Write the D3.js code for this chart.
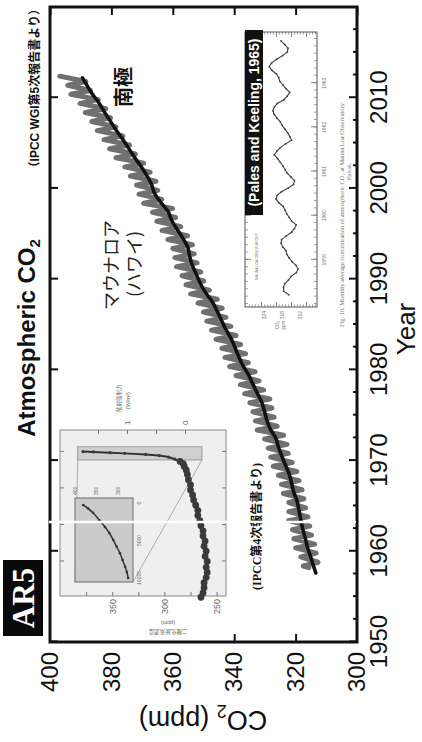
<!DOCTYPE html>
<html>
<head>
<meta charset="utf-8">
<script src="https://cdn.jsdelivr.net/npm/d3@7"></script>
<style>
  html, body { margin: 0; padding: 0; background: #fff; }
  svg { display: block; }
</style>
</head>
<body>
<svg id="chart" width="422" height="742"></svg>
<script>
// ---------------- main chart data ----------------
const decadeTicks = [1950, 1960, 1970, 1980, 1990, 2000, 2010];
const yearMinorTicks = [1952.5, 1955, 1957.5, 1962.5, 1965, 1967.5, 1972.5, 1975, 1977.5,
  1982.5, 1985, 1987.5, 1992.5, 1995, 1997.5, 2002.5, 2005, 2007.5, 2012.5, 2015, 2017.5];
const co2Ticks = [300, 320, 340, 360, 380, 400];
const co2EdgeTicks = [320, 340];

// Mauna Loa: seasonal maximum (May) and minimum (Oct) per year, ppm
const mloYears = [1958, 1959, 1960, 1961, 1962, 1963, 1964, 1965, 1966, 1967, 1968, 1969,
  1970, 1971, 1972, 1973, 1974, 1975, 1976, 1977, 1978, 1979, 1980, 1981, 1982, 1983,
  1984, 1985, 1986, 1987, 1988, 1989, 1990, 1991, 1992, 1993, 1994, 1995, 1996, 1997,
  1998, 1999, 2000, 2001, 2002, 2003, 2004, 2005, 2006, 2007, 2008, 2009, 2010, 2011, 2012];
const mloMay = [317.5, 318.3, 320.0, 320.6, 321.0, 322.3, 322.2, 322.2, 324.0, 324.6, 325.6,
  327.3, 328.1, 328.9, 330.1, 332.5, 333.1, 333.9, 334.9, 336.6, 338.0, 339.4, 341.5, 343.0,
  344.0, 345.9, 347.4, 348.9, 350.0, 351.8, 354.2, 355.7, 357.0, 358.8, 359.3, 360.0, 361.6,
  363.5, 365.2, 366.6, 369.5, 371.0, 371.8, 373.8, 375.6, 378.5, 380.6, 382.4, 384.6, 386.4,
  388.5, 390.2, 393.2, 394.2, 396.8];
const mloOct = [312.7, 313.3, 313.8, 314.8, 315.4, 316.0, 316.7, 317.3, 317.9, 318.9, 319.6,
  321.1, 322.4, 322.8, 323.9, 326.0, 327.0, 327.7, 328.4, 330.4, 331.9, 333.2, 335.4, 336.3,
  337.9, 339.4, 341.1, 342.7, 343.9, 345.5, 348.1, 349.9, 350.9, 352.1, 353.0, 353.6, 355.2,
  357.4, 359.1, 360.1, 363.6, 364.9, 365.5, 367.4, 369.5, 372.2, 374.1, 376.3, 378.5, 380.3,
  381.8, 384.3, 386.8, 388.3];
const mloFirst = { t: 1958.2, v: 315.7 };
const mayFrac = 0.375, octFrac = 0.79;

// South Pole annual values, ppm
const spoYears = [1957.6, 1958.5, 1959.5, 1960.5, 1961.5, 1962.5, 1963.5, 1964.5, 1965.5,
  1966.5, 1967.5, 1968.5, 1969.5, 1970.5, 1971.5, 1972.5, 1973.5, 1974.5, 1975.5, 1976.5,
  1977.5, 1978.5, 1979.5, 1980.5, 1981.5, 1982.5, 1983.5, 1984.5, 1985.5, 1986.5, 1987.5,
  1988.5, 1989.5, 1990.5, 1991.5, 1992.5, 1993.5, 1994.5, 1995.5, 1996.5, 1997.5, 1998.5,
  1999.5, 2000.5, 2001.5, 2002.5, 2003.5, 2004.5, 2005.5, 2006.5, 2007.5, 2008.5, 2009.5,
  2010.5, 2011.5, 2012.2];
const spoValues = [313.4, 314.3, 315.2, 316.2, 316.9, 317.7, 318.3, 318.9, 319.5, 320.6,
  321.3, 322.1, 323.3, 324.5, 325.6, 326.5, 328.3, 329.4, 330.2, 331.1, 332.6, 334.0, 335.4,
  337.2, 338.6, 339.8, 341.1, 342.8, 344.2, 345.6, 347.1, 349.3, 351.0, 352.3, 353.6, 354.5,
  355.1, 356.7, 358.6, 360.4, 361.6, 364.0, 366.0, 367.0, 368.6, 370.5, 372.6, 374.5, 376.5,
  378.6, 380.5, 382.4, 384.2, 386.4, 388.2, 389.4];

// ---------------- AR4 inset data (year, ppm) ----------------
const ar4Years = [10, 70, 140, 210, 280, 350, 420, 500, 570, 640, 710, 780, 850, 920, 990,
  1060, 1130, 1200, 1270, 1340, 1410, 1480, 1550, 1620, 1690, 1750, 1800, 1840, 1870, 1900,
  1930, 1950, 1965, 1980, 1990, 2000, 2005];
const ar4Co2 = [265, 263, 262, 262, 260, 259, 260, 259, 261, 260, 262, 261, 263, 263, 265,
  266, 268, 268, 270, 272, 273, 275, 275, 277, 278, 279, 281, 282, 285, 290, 296, 305, 318,
  338, 352, 368, 378];
const ar4Co2Ticks = [250, 275, 300, 325, 350, 375];
const ar4Co2Labels = [250, 300, 350];
const ar4YearTicks = [500, 1000, 1500, 2000];
const ar4ForcingTicks = [0, 0.5, 1, 1.5];
const ar4ForcingLabels = [0, 1];
// 10,000-year panel (years before present, ppm)
const subYears = [-10000, -9200, -8500, -7600, -6700, -5800, -4900, -4000, -3200, -2300, -1300, -700, -270];
const subCo2 = [276, 279, 283, 289, 295, 303, 311, 320, 330, 343, 358, 370, 381];
const subYearLabels = [-10000, -5000, 0];
const subCo2Labels = [300, 350, 400];

// ---------------- Pales & Keeling (1965) monthly Mauna Loa, Mar 1958 - Dec 1963 ----------------
const pkStart = { year: 1958, month: 3 };
const pkValues = [
  315.71, 317.45, 317.50, 317.10, 315.86, 314.93, 313.20, 312.66, 313.33, 314.67,
  315.62, 316.38, 316.71, 317.72, 318.29, 318.15, 316.54, 314.80, 313.84, 313.26, 314.80, 315.58,
  316.43, 316.97, 317.58, 319.02, 320.03, 319.59, 318.18, 315.91, 314.16, 313.83, 315.00, 316.19,
  316.93, 317.70, 318.54, 319.48, 320.58, 319.77, 318.57, 316.79, 314.80, 315.38, 316.10, 317.01,
  317.94, 318.56, 319.68, 320.63, 321.01, 320.55, 319.58, 317.40, 316.26, 315.42, 316.69, 317.69,
  318.74, 319.08, 319.86, 321.39, 322.25, 321.47, 319.74, 317.77, 316.21, 315.99, 317.07, 318.35];
const pkYearTicks = [1959, 1960, 1961, 1962, 1963];
const pkCo2Labels = [312, 318, 324];

// ---------------- drawing ----------------
const SANS = '"Liberation Sans", Arial, sans-serif';
const SERIF = '"Liberation Serif", "Times New Roman", serif';
const CJK = '"Noto Sans CJK JP", "Noto Sans CJK SC", sans-serif';

const svg = d3.select('#chart');
const W = 742;   // landscape width of the figure before it is turned on its side
// the whole figure is laid out in landscape and turned a quarter turn counter-clockwise
const root = svg.append('g').attr('transform', `translate(0,${W}) rotate(-90)`);

const x = d3.scaleLinear().domain([1950, 2020]).range([100, 735]);
const y = d3.scaleLinear().domain([300, 400]).range([357, 50]);

function styleAxis(g, w) {
  g.select('.domain').remove();
  g.selectAll('line').attr('stroke', '#111').attr('stroke-width', w);
  g.selectAll('text').attr('font-family', SANS).attr('fill', '#111');
}

// Year axis (bottom): decade ticks with labels, minor ticks every 2.5 years
const gB = root.append('g').attr('transform', 'translate(0,357)')
  .call(d3.axisBottom(x).tickValues(decadeTicks).tickSizeInner(-8).tickSizeOuter(0)
    .tickPadding(13).tickFormat(d3.format('d')));
styleAxis(gB, 2);
gB.selectAll('text').attr('font-size', 24);

const gBm = root.append('g').attr('transform', 'translate(0,357)')
  .call(d3.axisBottom(x).tickValues(yearMinorTicks).tickSizeInner(-4).tickSizeOuter(0).tickFormat(''));
styleAxis(gBm, 2);

const gT = root.append('g').attr('transform', 'translate(0,50)')
  .call(d3.axisTop(x).tickValues(decadeTicks).tickSizeInner(-8).tickSizeOuter(0).tickFormat(''));
styleAxis(gT, 2);

// CO2 axis (left): labels, plus inward ticks
const gL = root.append('g').attr('transform', 'translate(100,0)')
  .call(d3.axisLeft(y).tickValues(co2Ticks).tickSizeInner(0).tickSizeOuter(0).tickPadding(10));
styleAxis(gL, 2);
gL.selectAll('text').attr('font-size', 24);
const gLt = root.append('g').attr('transform', 'translate(100,0)')
  .call(d3.axisLeft(y).tickValues(co2EdgeTicks).tickSizeInner(-8).tickSizeOuter(0).tickFormat(''));
styleAxis(gLt, 2);

const gR = root.append('g').attr('transform', 'translate(735,0)')
  .call(d3.axisRight(y).tickValues(co2Ticks).tickSizeInner(-8).tickSizeOuter(0).tickFormat(''));
styleAxis(gR, 2);

// plot frame
root.append('rect').attr('x', x(1950)).attr('y', y(400))
  .attr('width', x(2020) - x(1950)).attr('height', y(300) - y(400))
  .attr('fill', 'none').attr('stroke', '#111').attr('stroke-width', 3);

// ---------------- AR4 inset (ice-core CO2, years 0-2005) ----------------
const ix = d3.scaleLinear().domain([0, 2300]).range([144, 312]);
const iy = d3.scaleLinear().domain([241, 400]).range([226, 60]);
const iforce = d3.scaleLinear().domain([0, 1]).range([185, 127]);
const inset = root.append('g');
inset.append('rect').attr('x', 146).attr('y', 60).attr('width', 166).attr('height', 166)
  .attr('fill', '#efefef').attr('stroke', '#8a8a8a').attr('stroke-width', 1);

function tinyAxis(g, w) {
  g.select('.domain').remove();
  g.selectAll('line').attr('stroke', '#777').attr('stroke-width', w);
  g.selectAll('text').attr('font-family', SANS).attr('fill', '#666');
}
const iaB = inset.append('g').attr('transform', 'translate(0,226)')
  .call(d3.axisBottom(ix).tickValues(ar4YearTicks).tickSizeInner(-4).tickSizeOuter(0).tickFormat(''));
tinyAxis(iaB, 1);
const iaT = inset.append('g').attr('transform', 'translate(0,60)')
  .call(d3.axisTop(ix).tickValues(ar4YearTicks).tickSizeInner(-4).tickSizeOuter(0).tickFormat(''));
tinyAxis(iaT, 1);
const iaL = inset.append('g').attr('transform', 'translate(146,0)')
  .call(d3.axisLeft(iy).tickValues(ar4Co2Ticks).tickSizeInner(-4).tickSizeOuter(0).tickFormat(''));
tinyAxis(iaL, 1);
const iaLl = inset.append('g').attr('transform', 'translate(146,0)')
  .call(d3.axisLeft(iy).tickValues(ar4Co2Labels).tickSizeInner(0).tickSizeOuter(0).tickPadding(3));
tinyAxis(iaLl, 1);
iaLl.selectAll('text').attr('font-size', 9);
const iaR = inset.append('g').attr('transform', 'translate(312,0)')
  .call(d3.axisRight(iforce).tickValues(ar4ForcingTicks).tickSizeInner(-4).tickSizeOuter(0).tickFormat(''));
tinyAxis(iaR, 1);
const iaRl = inset.append('g').attr('transform', 'translate(312,0)')
  .call(d3.axisRight(iforce).tickValues(ar4ForcingLabels).tickSizeInner(0).tickSizeOuter(0)
    .tickPadding(5).tickFormat(d3.format('d')));
tinyAxis(iaRl, 1);
iaRl.selectAll('text').attr('font-size', 8);

inset.append('text').attr('x', 330).attr('y', 121).attr('font-family', CJK)
  .attr('font-size', 5.5).attr('fill', '#666').text('放射強制力');
inset.append('text').attr('x', 333).attr('y', 130).attr('font-family', SANS)
  .attr('font-size', 5.5).attr('fill', '#666').text('(W/m²)');
inset.append('text').attr('transform', 'translate(112,168) rotate(-90)').attr('text-anchor', 'middle')
  .attr('font-family', CJK).attr('font-size', 5.5).attr('fill', '#666').text('二酸化炭素濃度');
inset.append('text').attr('transform', 'translate(121,168) rotate(-90)').attr('text-anchor', 'middle')
  .attr('font-family', SANS).attr('font-size', 5.5).attr('fill', '#666').text('(ppm)');

// highlighted industrial-era band
inset.append('rect').attr('x', ix(1890)).attr('y', iy(383))
  .attr('width', ix(2070) - ix(1890)).attr('height', iy(264) - iy(383))
  .attr('fill', '#cfcfcf').attr('stroke', '#8a8a8a').attr('stroke-width', 0.8);

// 10,000-year panel
const sx = d3.scaleLinear().domain([-10000, 0]).range([164, 239]);
const sy = d3.scaleLinear().domain([260, 400]).range([135, 75]);
inset.append('line').attr('x1', ix(1890)).attr('y1', iy(264)).attr('x2', 160).attr('y2', 133)
  .attr('stroke', '#9a9a9a').attr('stroke-width', 0.8);
inset.append('line').attr('x1', ix(1890)).attr('y1', iy(383)).attr('x2', 160).attr('y2', 75)
  .attr('stroke', '#9a9a9a').attr('stroke-width', 0.8);
inset.append('rect').attr('x', 160).attr('y', 75).attr('width', 84).attr('height', 58)
  .attr('fill', '#cbcbcb').attr('stroke', '#6a6a6a').attr('stroke-width', 1);
const subPts = subYears.map((t, i) => ({ t, v: subCo2[i] }));
inset.append('path').datum(subPts)
  .attr('d', d3.line().x(d => sx(d.t)).y(d => sy(d.v)).curve(d3.curveMonotoneX))
  .attr('fill', 'none').attr('stroke', '#3a3a3a').attr('stroke-width', 1.6);
inset.selectAll('circle.sub').data(subPts).join('circle').attr('class', 'sub')
  .attr('cx', d => sx(d.t)).attr('cy', d => sy(d.v)).attr('r', 1.3).attr('fill', '#333');
inset.selectAll('text.subx').data(subYearLabels).join('text').attr('class', 'subx')
  .attr('x', d => sx(d)).attr('y', 141).attr('text-anchor', 'middle')
  .attr('font-family', SANS).attr('font-size', 5).attr('fill', '#666')
  .text(d => Math.abs(d));
inset.selectAll('text.suby').data(subCo2Labels).join('text').attr('class', 'suby')
  .attr('x', 247).attr('y', d => sy(d) + 2).attr('font-family', SANS)
  .attr('font-size', 5).attr('fill', '#666').text(d => d);

// ice-core and instrumental points
const ar4Pts = ar4Years.map((t, i) => ({ t, v: ar4Co2[i] }));
inset.append('path').datum(ar4Pts.filter(d => d.t >= 1840))
  .attr('d', d3.line().x(d => ix(d.t)).y(d => iy(d.v)))
  .attr('fill', 'none').attr('stroke', '#333').attr('stroke-width', 2);
inset.selectAll('circle.ice').data(ar4Pts).join('circle').attr('class', 'ice')
  .attr('cx', d => ix(d.t)).attr('cy', d => iy(d.v))
  .attr('r', d => d.t >= 1900 ? 1.6 : 3.4).attr('fill', '#3a3a3a');

// ---------------- Pales & Keeling (1965) inset ----------------
const px = d3.scaleLinear().domain([1958, 1964]).range([438, 703]);
const py = d3.scaleLinear().domain([306, 330]).range([318, 246]);
const pk = root.append('g');
pk.append('rect').attr('x', 435).attr('y', 245).attr('width', 275).attr('height', 72)
  .attr('fill', '#fff').attr('stroke', '#555').attr('stroke-width', 1);
const pkMonthTicks = d3.range(1958, 1964.01, 1 / 6);
const pkCo2Ticks = d3.range(307, 330, 1);
const pkCo2Major = d3.range(310, 330, 5);
[[d3.axisBottom, 317], [d3.axisTop, 245]].forEach(([ax, pos]) => {
  const g1 = pk.append('g').attr('transform', `translate(0,${pos})`)
    .call(ax(px).tickValues(pkMonthTicks).tickSizeInner(-3).tickSizeOuter(0).tickFormat(''));
  tinyAxis(g1, 0.7);
  const g2 = pk.append('g').attr('transform', `translate(0,${pos})`)
    .call(ax(px).tickValues(pkYearTicks).tickSizeInner(-6).tickSizeOuter(0).tickFormat(''));
  tinyAxis(g2, 0.9);
});
[[d3.axisLeft, 435], [d3.axisRight, 710]].forEach(([ax, pos]) => {
  const g1 = pk.append('g').attr('transform', `translate(${pos},0)`)
    .call(ax(py).tickValues(pkCo2Ticks).tickSizeInner(-2.5).tickSizeOuter(0).tickFormat(''));
  tinyAxis(g1, 0.7);
  const g2 = pk.append('g').attr('transform', `translate(${pos},0)`)
    .call(ax(py).tickValues(pkCo2Major).tickSizeInner(-5).tickSizeOuter(0).tickFormat(''));
  tinyAxis(g2, 0.9);
});
pk.selectAll('text.pky').data(pkYearTicks).join('text').attr('class', 'pky')
  .attr('x', d => px(d)).attr('y', 326).attr('text-anchor', 'middle')
  .attr('font-family', SANS).attr('font-size', 5).attr('fill', '#777').text(d => d);
pk.selectAll('text.pkc').data(pkCo2Labels).join('text').attr('class', 'pkc')
  .attr('x', 431).attr('y', d => py(d) + 2).attr('text-anchor', 'end')
  .attr('font-family', SANS).attr('font-size', 5).attr('fill', '#777').text(d => d);
pk.append('text').attr('x', 417).attr('y', 279).attr('text-anchor', 'middle')
  .attr('font-family', SANS).attr('font-size', 4.5).attr('fill', '#777').text('CO₂');
pk.append('text').attr('x', 417).attr('y', 285).attr('text-anchor', 'middle')
  .attr('font-family', SANS).attr('font-size', 4.5).attr('fill', '#777').text('ppm');
pk.append('text').attr('x', 462).attr('y', 258)
  .attr('font-family', SANS).attr('font-size', 3.5).attr('fill', '#777').text('MAUNA LOA OBSERVATORY');
pk.append('text').attr('x', 415).attr('y', 344)
  .attr('font-family', SERIF).attr('font-size', 6.4).attr('fill', '#777')
  .text('Fig. 10.  Monthly average concentration of atmospheric CO₂ at Mauna Loa Observatory');
pk.append('text').attr('x', 562).attr('y', 351)
  .attr('font-family', SERIF).attr('font-size', 5.5).attr('fill', '#888').text('Hawaii.');

const pkPts = pkValues.map((v, i) => ({
  t: pkStart.year + (pkStart.month - 1 + i + 0.5) / 12, v }));
pk.append('path').datum(pkPts)
  .attr('d', d3.line().x(d => px(d.t)).y(d => py(d.v)))
  .attr('fill', 'none').attr('stroke', '#444').attr('stroke-width', 1.1);
pk.selectAll('circle.pk').data(pkPts).join('circle').attr('class', 'pk')
  .attr('cx', d => px(d.t)).attr('cy', d => py(d.v)).attr('r', 0.9).attr('fill', '#444');

// label box
pk.append('rect').attr('x', 527).attr('y', 245).attr('width', 185).attr('height', 18).attr('fill', '#111');
pk.append('text').attr('x', 619.5).attr('y', 259).attr('text-anchor', 'middle')
  .attr('font-family', SANS).attr('font-weight', 'bold').attr('font-size', 14)
  .attr('fill', '#fff').text('(Pales and Keeling, 1965)');

// ---------------- data series ----------------
const mloPts = [mloFirst];
mloYears.forEach((yr, i) => {
  mloPts.push({ t: yr + mayFrac, v: mloMay[i] });
  if (i < mloOct.length) mloPts.push({ t: yr + octFrac, v: mloOct[i] });
});
const line = d3.line().x(d => x(d.t)).y(d => y(d.v));
root.append('path').datum(mloPts).attr('d', line)
  .attr('fill', 'none').attr('stroke', '#707070').attr('stroke-width', 5)
  .attr('stroke-linejoin', 'round').attr('stroke-linecap', 'round');

const spoPts = spoYears.map((t, i) => ({ t, v: spoValues[i] }));
root.append('path').datum(spoPts).attr('d', line.curve(d3.curveMonotoneX))
  .attr('fill', 'none').attr('stroke', '#111').attr('stroke-width', 3.5)
  .attr('stroke-linejoin', 'round').attr('stroke-linecap', 'round');

// ---------------- titles and labels ----------------
const title = root.append('text').attr('x', 404).attr('y', 35).attr('text-anchor', 'middle')
  .attr('font-family', SANS).attr('font-weight', 'bold').attr('font-size', 24).attr('fill', '#111');
title.append('tspan').text('Atmospheric CO');
title.append('tspan').attr('font-size', 15).attr('dy', 5).text('2');

root.append('text').attr('x', 739).attr('y', 39).attr('text-anchor', 'end')
  .attr('font-family', `"Liberation Sans", ${CJK}`).attr('font-weight', 'bold')
  .attr('font-size', 12).attr('fill', '#111').text('（IPCC WGI第5次報告書より）');

root.append('rect').attr('x', 106).attr('y', 3).attr('width', 76).attr('height', 40).attr('fill', '#0a0a0a');
root.append('text').attr('x', 144).attr('y', 34).attr('text-anchor', 'middle')
  .attr('font-family', SERIF).attr('font-weight', 'bold').attr('font-size', 31)
  .attr('fill', '#fff').text('AR5');

root.append('text').attr('x', 655).attr('y', 131).attr('text-anchor', 'middle')
  .attr('font-family', CJK).attr('font-weight', 'bold').attr('font-size', 20)
  .attr('fill', '#111').text('南極');

root.append('text').attr('x', 477).attr('y', 118).attr('text-anchor', 'middle')
  .attr('font-family', CJK).attr('font-size', 18).attr('fill', '#222').text('マウナロア');
root.append('text').attr('x', 478).attr('y', 141).attr('text-anchor', 'middle')
  .attr('font-family', CJK).attr('font-size', 18).attr('fill', '#222').text('(ハワイ)');

root.append('text').attr('x', 152).attr('y', 261)
  .attr('font-family', `${SERIF.split(',')[0]}, ${CJK}`).attr('font-weight', 'bold')
  .attr('font-size', 12).attr('fill', '#111').text('(IPCC第4次報告書より)');

const yl = root.append('text').attr('transform', 'translate(31,203) rotate(-90)')
  .attr('text-anchor', 'middle').attr('font-family', SANS).attr('font-size', 27).attr('fill', '#111');
yl.append('tspan').text('CO');
yl.append('tspan').attr('font-size', 18).attr('dy', 6).text('2');
yl.append('tspan').attr('dy', -6).text(' (ppm)');

root.append('text').attr('x', 413).attr('y', 415).attr('text-anchor', 'middle')
  .attr('font-family', SANS).attr('font-size', 26).attr('fill', '#111').text('Year');

// white scan streak across the plot
root.append('line').attr('x1', 220).attr('x2', 220).attr('y1', 49).attr('y2', 356)
  .attr('stroke', '#fff').attr('stroke-width', 2.5);
</script>
</body>
</html>
